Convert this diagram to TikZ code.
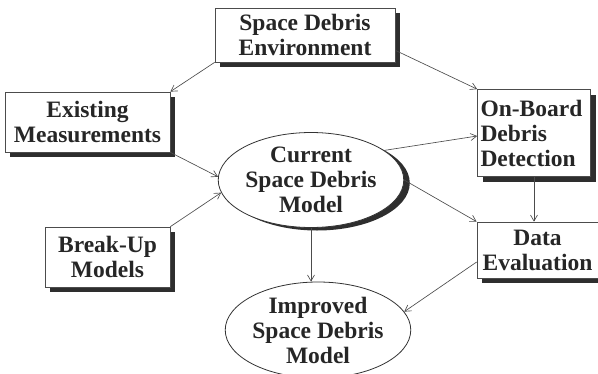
\documentclass[tikz,border=0pt]{standalone}
\usepackage{fontspec}
\setmainfont{Liberation Serif}
\usetikzlibrary{shapes.geometric,shadows,arrows.meta}
\definecolor{txt}{HTML}{262626}
\definecolor{shd}{HTML}{2E2E2E}
\tikzset{
  lbl/.style={font=\fontsize{23.5}{25}\selectfont\bfseries, text=txt, align=center, inner sep=0pt},
  boxnode/.style={lbl, draw=black!70, line width=0.7pt, fill=white,
     drop shadow={shadow xshift=5pt, shadow yshift=-5pt, fill=shd, opacity=1}},
  ellnode/.style={lbl, ellipse, draw=black!80, line width=0.8pt, fill=white},
  conn/.style={draw=black!70, line width=0.65pt, -{Straight Barb[length=6pt,width=7pt]}}
}
\begin{document}
\begin{tikzpicture}[x=1pt,y=-1pt]
\useasboundingbox (0,0) rectangle (598,373);
\node[boxnode, minimum width=180pt, minimum height=54pt] (env) at (305,35) {Space Debris\\Environment};
\node[boxnode, minimum width=165pt, minimum height=60pt] (em) at (87.5,122) {Existing\\Measurements};
\node[boxnode, minimum width=125pt, minimum height=60pt] (bu) at (107.5,257) {Break-Up\\Models};
\node[boxnode, minimum width=113pt, minimum height=87pt, align=left, text width=107pt] (ob) at (534,133) {On-Board\\Debris\\Detection};
\node[boxnode, minimum width=121pt, minimum height=56pt] (de) at (537.5,250) {Data\\Evaluation};
\node[ellnode, minimum width=185pt, minimum height=95pt,
  drop shadow={shadow xshift=6pt, shadow yshift=-3pt, fill=shd, opacity=1}] (cur) at (311,180) {Current\\Space Debris\\Model};
\node[ellnode, minimum width=180pt, minimum height=96pt] (imp) at (318,330) {Improved\\Space Debris\\Model};
% connectors
\draw[conn] (env.south west) -- (em.north east);
\draw[conn] ([yshift=12pt]env.south east) -- (ob.north west);
\draw[conn] (em.south east) -- (cur.178);
\draw[conn] (bu.north east) -- (cur.188);
\draw[conn] (cur.22) -- ([yshift=-3pt]ob.west);
\draw[conn] (cur.0) -- (de.north west);
\draw[conn] (ob.south) -- (ob.south |- de.north);
\draw[conn] (cur.south) -- (cur.south |- imp.north);
\draw[conn] ([yshift=-12pt]de.west) -- (imp.12);
\end{tikzpicture}
\end{document}
